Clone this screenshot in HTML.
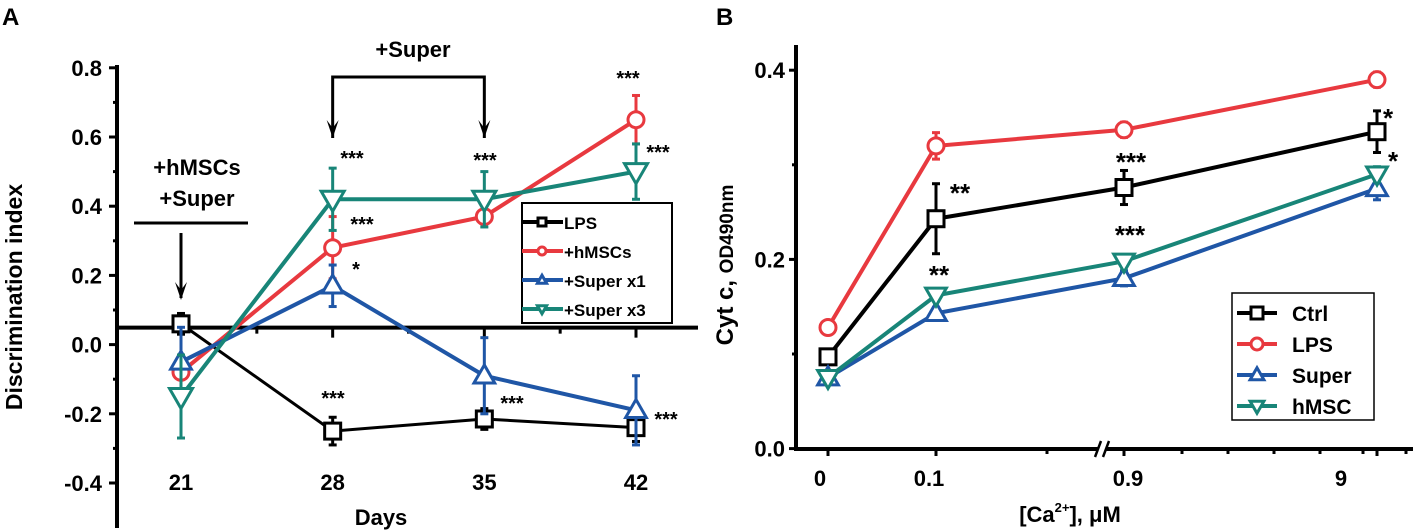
<!DOCTYPE html>
<html><head><meta charset="utf-8"><style>
body{margin:0;background:#fff;}
svg{display:block;font-family:"Liberation Sans",Arial,sans-serif;font-weight:bold;}
</style></head><body>
<svg id="s" width="1417" height="530" viewBox="0 0 1417 530"></svg>
<script>
// Panel A data
const daysA = [21, 28, 35, 42];
const yTicksA = [0.8, 0.6, 0.4, 0.2, 0.0, -0.2, -0.4];
const lpsA = [0.06, -0.25, -0.215, -0.24];
const lpsErrA = [0.03, 0.04, 0.03, 0.04];
const hmscA = [-0.08, 0.28, 0.37, 0.65];
const hmscErrA = [0.05, 0.09, 0.02, 0.07];
const sup1A = [-0.05, 0.17, -0.09, -0.19];
const sup1ErrA = [0.1, 0.06, 0.11, 0.1];
const sup3A = [-0.15, 0.42, 0.42, 0.50];
const sup3ErrA = [0.12, 0.09, 0.08, 0.08];
const baselineA = 0.049;
// Panel B data
const concB = ["0", "0.1", "0.9", "9"];
const yTicksB = [0.4, 0.2, 0.0];
const ctrlB = [0.097, 0.243, 0.276, 0.335];
const ctrlErrB = [0.005, 0.037, 0.018, 0.022];
const lpsB = [0.128, 0.32, 0.337, 0.39];
const lpsErrB = [0.004, 0.014, 0.008, 0.008];
const superB = [0.075, 0.143, 0.18, 0.275];
const superErrB = [0.005, 0.006, 0.008, 0.012];
const hmscB = [0.075, 0.162, 0.198, 0.29];
const hmscErrB = [0.004, 0.006, 0.006, 0.008];

const NS = "http://www.w3.org/2000/svg";
const svg = document.getElementById('s');
function mk(tag, attrs, parent, text) {
  const e = document.createElementNS(NS, tag);
  for (const k in attrs) e.setAttribute(k, attrs[k]);
  if (text !== undefined) e.textContent = text;
  (parent || svg).appendChild(e);
  return e;
}
const RED = "#e8393f", BLUE = "#1f56a6", TEAL = "#188578", BLK = "#000";

// ---- Panel A scales
const xA = d => 181 + (d - 21) * (455 / 21);
const yA = v => 344.6 - v * 346;
function marker(g, type, x, y, c, r) {
  if (type === 'sq') return mk('rect', {x: x - r, y: y - r, width: 2 * r, height: 2 * r, fill: '#fff', stroke: c, 'stroke-width': 3}, g);
  if (type === 'ci') return mk('circle', {cx: x, cy: y, r: r, fill: '#fff', stroke: c, 'stroke-width': 3}, g);
  if (type === 'up') return mk('polygon', {points: `${x},${y - r * 1.2} ${x - r * 1.15},${y + r * 0.8} ${x + r * 1.15},${y + r * 0.8}`, fill: '#fff', stroke: c, 'stroke-width': 3}, g);
  return mk('polygon', {points: `${x},${y + r * 1.2} ${x - r * 1.15},${y - r * 0.8} ${x + r * 1.15},${y - r * 0.8}`, fill: '#fff', stroke: c, 'stroke-width': 3}, g);
}
function series(name, xs, vals, errs, xf, yf, c, type, r, w) {
  const g = mk('g', {}, svg);
  
  
  const pts = vals.map((v, i) => `${xf(i)},${yf(v)}`).join(' ');
  mk('polyline', {points: pts, fill: 'none', stroke: c, 'stroke-width': w}, g);
  vals.forEach((v, i) => {
    const x = xf(i), y1 = yf(v + errs[i]), y2 = yf(v - errs[i]);
    mk('line', {x1: x, x2: x, y1: y1, y2: y2, stroke: c, 'stroke-width': 3}, g);
    mk('line', {x1: x - 4, x2: x + 4, y1: y1, y2: y1, stroke: c, 'stroke-width': 3}, g);
    mk('line', {x1: x - 4, x2: x + 4, y1: y2, y2: y2, stroke: c, 'stroke-width': 3}, g);
    const m = marker(g, type, x, yf(v), c, r);
    
    
  });
}
mk('text', {x: 2, y: 25, 'font-size': 24}, svg, 'A');
// y axis
mk('line', {x1: 117, x2: 117, y1: 65, y2: 528, stroke: BLK, 'stroke-width': 4});
yTicksA.forEach(v => {
  mk('line', {x1: 109, x2: 117, y1: yA(v), y2: yA(v), stroke: BLK, 'stroke-width': 3});
  const t = mk('text', {x: 102, y: yA(v) + 8, 'font-size': 22, 'text-anchor': 'end'}, svg, v.toFixed(1));
  
  
});
for (let v = 0.7; v > -0.5; v -= 0.2) mk('line', {x1: 113, x2: 117, y1: yA(v), y2: yA(v), stroke: BLK, 'stroke-width': 3});
const yl = mk('text', {x: 0, y: 0, 'font-size': 23, 'text-anchor': 'middle', transform: 'translate(22,297) rotate(-90)'}, svg, 'Discrimination index');

// baseline
mk('line', {x1: 117, x2: 698, y1: yA(baselineA), y2: yA(baselineA), stroke: BLK, 'stroke-width': 4});
daysA.forEach(d => {
  mk('line', {x1: xA(d), x2: xA(d), y1: yA(baselineA), y2: yA(baselineA) + 10, stroke: BLK, 'stroke-width': 3});
  const t = mk('text', {x: xA(d), y: 490, 'font-size': 22, 'text-anchor': 'middle'}, svg, String(d));
  
  
});
[24.5, 31.5, 38.5].forEach(d => mk('line', {x1: xA(d), x2: xA(d), y1: yA(baselineA), y2: yA(baselineA) + 6, stroke: BLK, 'stroke-width': 3}));
mk('text', {x: 381, y: 525, 'font-size': 22, 'text-anchor': 'middle'}, svg, 'Days');
// annotations
mk('text', {x: 413, y: 57, 'font-size': 22, 'text-anchor': 'middle'}, svg, '+Super');
mk('polyline', {points: `${xA(28)},138 ${xA(28)},77 ${xA(35)},77 ${xA(35)},138`, fill: 'none', stroke: BLK, 'stroke-width': 3});
function arrow(x, y) { mk('polygon', {points: `${x - 6},${y - 18} ${x},${y - 10} ${x + 6},${y - 18} ${x},${y}`, fill: BLK}); }
arrow(xA(28), 138); arrow(xA(35), 138);
mk('text', {x: 197, y: 175, 'font-size': 22, 'text-anchor': 'middle'}, svg, '+hMSCs');
mk('text', {x: 197, y: 206, 'font-size': 22, 'text-anchor': 'middle'}, svg, '+Super');
mk('line', {x1: 134, x2: 248, y1: 223, y2: 223, stroke: BLK, 'stroke-width': 3});
mk('line', {x1: xA(21), x2: xA(21), y1: 233, y2: 298, stroke: BLK, 'stroke-width': 3});
arrow(xA(21), 300);
// series A
const fxA = i => xA(daysA[i]);
series('lps-series-a', daysA, lpsA, lpsErrA, fxA, yA, BLK, 'sq', 8, 3);
series('hmscs-series-a', daysA, hmscA, hmscErrA, fxA, yA, RED, 'ci', 8, 4);
series('super-x1-series-a', daysA, sup1A, sup1ErrA, fxA, yA, BLUE, 'up', 9, 4);
series('super-x3-series-a', daysA, sup3A, sup3ErrA, fxA, yA, TEAL, 'dn', 10, 4);
// stars A
[[352, 165, '***'], [628, 85, '***'], [658, 159, '***'], [485, 167, '***'], [362, 231, '***'], [356, 276, '*'], [333, 405, '***'], [512, 410, '***'], [666, 426, '***']].forEach(s => {
  const t = mk('text', {x: s[0], y: s[1], 'font-size': 20, 'text-anchor': 'middle'}, svg, s[2]);
  
  
});
// legend A
const lgA = mk('g', {}, svg);


mk('rect', {x: 522, y: 203, width: 150, height: 120, fill: '#fff', stroke: BLK, 'stroke-width': 2}, lgA);
[['LPS', BLK, 'sq'], ['+hMSCs', RED, 'ci'], ['+Super x1', BLUE, 'up'], ['+Super x3', TEAL, 'dn']].forEach((e, i) => {
  const y = 222 + i * 29;
  const g = mk('g', {}, lgA);
  
  
  mk('line', {x1: 522, x2: 563, y1: y, y2: y, stroke: e[1], 'stroke-width': 4}, g);
  marker(g, e[2], 542, y, e[1], 4);
  mk('text', {x: 564, y: y + 7, 'font-size': 17}, g, e[0]);
});

// ---- Panel B
const xPosB = [828, 936, 1124, 1377];
const xB = i => xPosB[i];
const yB = v => 448.6 - v * 946;
mk('text', {x: 716, y: 25, 'font-size': 24}, svg, 'B');
mk('line', {x1: 796, x2: 796, y1: 45, y2: 451, stroke: BLK, 'stroke-width': 4});
mk('line', {x1: 794, x2: 1098, y1: 449, y2: 449, stroke: BLK, 'stroke-width': 4});
mk('line', {x1: 1106, x2: 1413, y1: 449, y2: 449, stroke: BLK, 'stroke-width': 4});
mk('line', {x1: 1095, x2: 1101, y1: 457, y2: 441, stroke: BLK, 'stroke-width': 2.5});
mk('line', {x1: 1103, x2: 1109, y1: 457, y2: 441, stroke: BLK, 'stroke-width': 2.5});
yTicksB.forEach(v => {
  mk('line', {x1: 789, x2: 796, y1: yB(v), y2: yB(v), stroke: BLK, 'stroke-width': 3});
  const t = mk('text', {x: 785, y: yB(v) + 8, 'font-size': 22, 'text-anchor': 'end'}, svg, v.toFixed(1));
  
  
});
[0.1, 0.3].forEach(v => mk('line', {x1: 792, x2: 796, y1: yB(v), y2: yB(v), stroke: BLK, 'stroke-width': 3}));
const xlab = [820, 929, 1128, 1341];
concB.forEach((c, i) => {
  mk('line', {x1: xB(i), x2: xB(i), y1: 449, y2: 456, stroke: BLK, 'stroke-width': 3});
  const t = mk('text', {x: xlab[i], y: 486, 'font-size': 22, 'text-anchor': 'middle'}, svg, c);
  
  
});
[1047, 1182, 1228, 1274, 1320, 1363, 1406].forEach(x => mk('line', {x1: x, x2: x, y1: 449, y2: 454, stroke: BLK, 'stroke-width': 3}));
const xt = mk('text', {x: 1070, y: 522, 'font-size': 22, 'text-anchor': 'middle'}, svg);

mk('tspan', {}, xt, '[Ca');
mk('tspan', {dy: -10, 'font-size': 13}, xt, '2+');
mk('tspan', {dy: 10}, xt, '], μM');
const ytl = mk('text', {x: 0, y: 0, 'font-size': 24, 'text-anchor': 'middle', transform: 'translate(733,265) rotate(-90)'}, svg);

mk('tspan', {}, ytl, 'Cyt c, ');
mk('tspan', {'font-size': 19}, ytl, 'OD490nm');
series('lps-series-b', concB, lpsB, lpsErrB, xB, yB, RED, 'ci', 8, 4);
series('ctrl-series-b', concB, ctrlB, ctrlErrB, xB, yB, BLK, 'sq', 8, 4);
series('super-series-b', concB, superB, superErrB, xB, yB, BLUE, 'up', 9, 4);
series('hmsc-series-b', concB, hmscB, hmscErrB, xB, yB, TEAL, 'dn', 9, 4);
[[960, 202, '**'], [939, 284, '**'], [1131, 171, '***'], [1130, 244, '***'], [1388, 127, '*'], [1393, 170, '*']].forEach(s => {
  const t = mk('text', {x: s[0], y: s[1], 'font-size': 26, 'text-anchor': 'middle'}, svg, s[2]);
  
  
});
const lgB = mk('g', {}, svg);


mk('rect', {x: 1232, y: 293, width: 142, height: 127, fill: '#fff', stroke: BLK, 'stroke-width': 1.5}, lgB);
[['Ctrl', BLK, 'sq'], ['LPS', RED, 'ci'], ['Super', BLUE, 'up'], ['hMSC', TEAL, 'dn']].forEach((e, i) => {
  const y = 313 + i * 31;
  const g = mk('g', {}, lgB);
  
  
  mk('line', {x1: 1237, x2: 1277, y1: y, y2: y, stroke: e[1], 'stroke-width': 4}, g);
  marker(g, e[2], 1257, y, e[1], 6);
  mk('text', {x: 1292, y: y + 8, 'font-size': 21}, g, e[0]);
});
</script>
</body></html>
